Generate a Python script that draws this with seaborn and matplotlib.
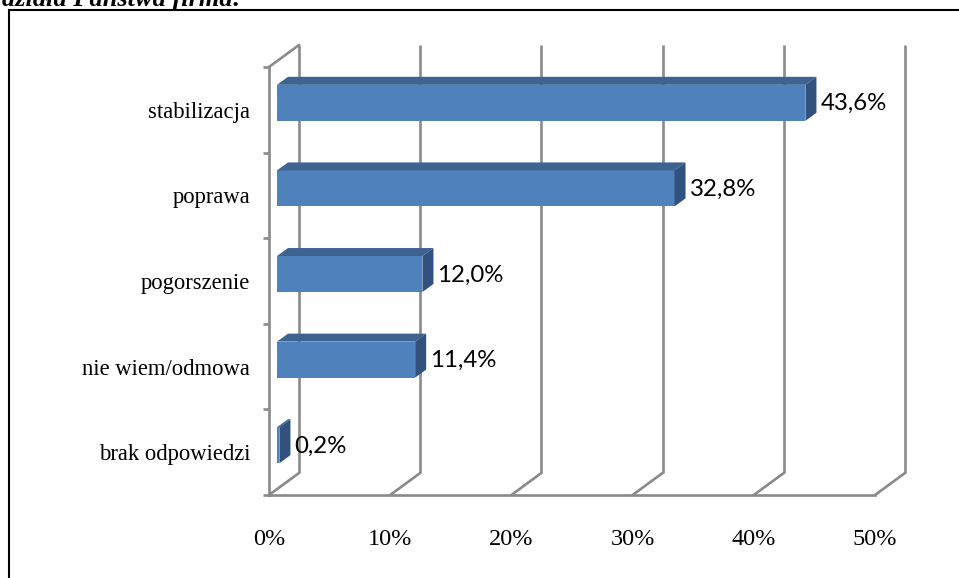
import matplotlib
matplotlib.use("Agg")
import matplotlib.pyplot as plt
import seaborn as sns
import pandas as pd
from matplotlib.patches import Polygon, Rectangle
from matplotlib.lines import Line2D
from matplotlib.transforms import Affine2D, IdentityTransform, blended_transform_factory

# ---------------- data ----------------
categories = ["stabilizacja", "poprawa", "pogorszenie", "nie wiem/odmowa", "brak odpowiedzi"]
values = [43.6, 32.8, 12.0, 11.4, 0.2]
value_labels = ["43,6%", "32,8%", "12,0%", "11,4%", "0,2%"]
x_ticks = [0, 10, 20, 30, 40, 50]
x_tick_labels = ["0%", "10%", "20%", "30%", "40%", "50%"]
title_text = "działa Państwa firma:"

# ---------------- style ----------------
W, H, DPI = 959, 578, 100
sns.set_theme(style="white")
plt.rcParams["font.family"] = ["Liberation Serif", "DejaVu Serif"]

FRONT = "#4F81BD"
TOP = "#3D6391"
SIDE = "#31527F"
GRID = "#8A8A8A"
GLW = 1.9

WALL_D = (30, 22)     # depth of the 3D walls in px
BAR_SHIFT = (8, 7)    # bar front face offset from the front plane
BAR_D = (11, 8)       # bar depth in px

fig = plt.figure(figsize=(W / DPI, H / DPI), dpi=DPI)
fig.patch.set_facecolor("white")
L, R, T, B = 269, 875, 67, 495
ax = fig.add_axes([L / W, (H - B) / H, (R - L) / W, (B - T) / H])
ax.patch.set_alpha(0)

df = pd.DataFrame({"kategoria": categories, "wartosc": values})
sns.barplot(data=df, x="wartosc", y="kategoria", orient="h", color=FRONT,
            width=0.42, saturation=1, ax=ax, zorder=3)
ax.set_xlim(0, 50)
ax.set_ylim(len(categories) - 0.5, -0.5)
ax.set_xlabel("")
ax.set_ylabel("")
ax.grid(False)

# spines
for s in ["top", "right"]:
    ax.spines[s].set_visible(False)
for s in ["left", "bottom"]:
    ax.spines[s].set_color(GRID)
    ax.spines[s].set_linewidth(GLW)
    ax.spines[s].set_zorder(2)

# ticks
ax.set_xticks(x_ticks)
ax.set_xticklabels(x_tick_labels, fontsize=17.5)
ax.tick_params(axis="x", which="major", length=5.8, width=GLW, color=GRID,
               direction="out", pad=19, labelcolor="black")
ax.set_yticks(range(len(categories)))
ax.set_yticklabels(categories, fontsize=16.3)
ax.tick_params(axis="y", which="major", length=0, pad=13.5, labelcolor="black")
ax.set_yticks([i - 0.5 for i in range(len(categories) + 1)], minor=True)
ax.tick_params(axis="y", which="minor", length=4.5, width=GLW, color=GRID,
               direction="out", left=True)

# back wall gridlines and floor diagonals
back = blended_transform_factory(ax.transData, ax.transAxes) + Affine2D().translate(*WALL_D)
for xv in x_ticks:
    ax.add_line(Line2D([xv, xv], [0, 1], transform=back, color=GRID, lw=GLW,
                       zorder=1, clip_on=False, solid_capstyle="butt"))
    p = ax.transData.transform((xv, len(categories) - 0.5))
    ax.add_line(Line2D([p[0], p[0] + WALL_D[0]], [p[1], p[1] + WALL_D[1]],
                       transform=IdentityTransform(), color=GRID, lw=GLW,
                       zorder=1, clip_on=False))
# left wall top diagonal
p = ax.transData.transform((0, -0.5))
ax.add_line(Line2D([p[0], p[0] + WALL_D[0]], [p[1], p[1] + WALL_D[1]],
                   transform=IdentityTransform(), color=GRID, lw=GLW,
                   zorder=1, clip_on=False))

# bars: shift front faces, add top & side faces, labels
shift = Affine2D().translate(*BAR_SHIFT)
for patch, lab in zip(ax.patches, value_labels):
    patch.set_transform(ax.transData + shift)
    patch.set_edgecolor("none")
    patch.set_clip_on(False)
    x0 = patch.get_x()
    y0 = patch.get_y()
    w = patch.get_width()
    h = patch.get_height()
    (dx0, dyb), (dx1, dyt) = (ax.transData + shift).transform([(x0, y0 + h), (x0 + w, y0)])
    dx, dy = BAR_D
    top = Polygon([(dx0, dyt), (dx1, dyt), (dx1 + dx, dyt + dy), (dx0 + dx, dyt + dy)],
                  closed=True, transform=IdentityTransform(), facecolor=TOP,
                  edgecolor="none", zorder=3, clip_on=False)
    side = Polygon([(dx1, dyb), (dx1, dyt), (dx1 + dx, dyt + dy), (dx1 + dx, dyb + dy)],
                   closed=True, transform=IdentityTransform(), facecolor=SIDE,
                   edgecolor="none", zorder=3, clip_on=False)
    ax.add_patch(top)
    ax.add_patch(side)
    ax.text(dx1 + dx + 4, (dyb + dyt) / 2 - 1, lab, transform=IdentityTransform(),
            ha="left", va="center", fontsize=17.3, family=["Lato", "DejaVu Sans"],
            color="black", zorder=4, clip_on=False)

# outer frame (cut by the image edges)
fig.add_artist(Rectangle((9, -30), 1000, H - 10 + 30, transform=IdentityTransform(),
                         fill=False, edgecolor="black", lw=1.5))
# cut-off heading line at the very top
fig.text(2, H - 6, title_text, transform=IdentityTransform(), ha="left", va="baseline",
         fontsize=19, fontstyle="italic", fontweight="bold", color="black")

fig.savefig("out.png", dpi=DPI)
